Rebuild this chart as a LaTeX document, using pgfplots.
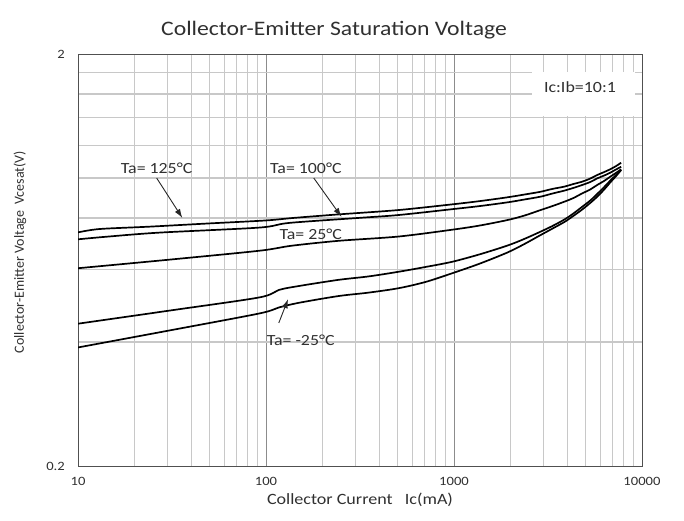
\documentclass[border=0pt]{standalone}
\usepackage{fontspec}
\setmainfont{Carlito}[FakeStretch=1.15]
\newfontfamily\ylfont{Carlito}
\usepackage{pgfplots}
\pgfplotsset{compat=1.18}
\usetikzlibrary{arrows.meta}
\definecolor{gridc}{HTML}{C8C8C8}
\definecolor{majc}{HTML}{8C8C8C}
\definecolor{framec}{HTML}{505050}
\definecolor{txt}{HTML}{303030}
\newcommand{\ann}{\fontsize{15.5bp}{17bp}\selectfont}
\pgfplotsset{curve/.style={black, no markers, line width=1.7bp, smooth, tension=0.5}}
\begin{document}
\begin{tikzpicture}
\begin{axis}[
  scale only axis, width=564bp, height=412bp,
  xmode=log, ymode=log,
  xmin=10, xmax=10000, ymin=0.2, ymax=2,
  xtick={10,100,1000,10000}, xticklabels={10,100,1000,10000},
  ytick={0.2,2}, yticklabels={0.2,2},
  minor xtick={20,30,40,50,60,70,80,90,200,300,400,500,600,700,800,900,2000,3000,4000,5000,6000,7000,8000,9000},
  minor ytick={0.4,0.6,0.8,1.0,1.2,1.4,1.6,1.8},
  xmajorgrids, xminorgrids, yminorgrids,
  major grid style={majc, line width=0.8bp},
  minor grid style={gridc, line width=1.2bp},
  major tick length=0pt, minor tick length=0pt,
  axis line style={framec, line width=0.9bp},
  tick label style={font=\fontsize{12.7bp}{14bp}\selectfont, text=txt},
  xticklabel style={anchor=center, yshift=-15bp},
  yticklabel style={anchor=east, inner sep=0pt, xshift=-13bp},
  title={Collector-Emitter Saturation Voltage},
  title style={at={(rel axis cs:0.454,1.0437)}, anchor=center, font=\fontsize{20.6bp}{24bp}\selectfont, text=txt},
  xlabel={Collector Current\ \ \ Ic(mA)},
  xlabel style={at={(rel axis cs:0.5,-0.0825)}, anchor=center, font=\fontsize{15.7bp}{18bp}\selectfont, text=txt},
  ylabel={Collector-Emitter Voltage\ \ Vcesat(V)},
  ylabel style={at={(rel axis cs:-0.1028,0.519)}, anchor=center, rotate=0, font=\ylfont\fontsize{14bp}{16bp}\selectfont, text=txt},
]
\coordinate (bl) at (rel axis cs:0,0);
\coordinate (tr) at (rel axis cs:1,1);
\fill[white] (axis cs:2600,1.416) rectangle (axis cs:9190,1.81);
\node[font=\fontsize{15.6bp}{17bp}\selectfont, text=txt] at (axis cs:4680,1.663) {Ic:Ib=10:1};

% Ta = 125 C
\addplot[curve] coordinates {
(10,0.738)(13,0.752)(24,0.762)(50,0.776)(100,0.789)(140,0.800)(243,0.816)(505,0.836)(975,0.863)(1373,0.879)(1931,0.898)(2375,0.912)(2886,0.926)(3341,0.941)(3864,0.953)(4313,0.967)(4814,0.980)(5308,0.997)(5781,1.017)(6295,1.034)(6771,1.050)(7278,1.069)(7745,1.089)};
% Ta = 100 C
\addplot[curve] coordinates {
(10,0.710)(14,0.720)(27,0.737)(92,0.758)(132,0.778)(310,0.800)(505,0.813)(975,0.840)(1373,0.855)(1931,0.873)(2375,0.887)(2886,0.901)(3341,0.917)(3864,0.932)(4313,0.946)(4814,0.962)(5308,0.978)(5781,0.998)(6295,1.014)(6771,1.030)(7278,1.049)(7745,1.065)};
% Ta = 25 C
\addplot[curve] coordinates {
(10,0.604)(31,0.634)(92,0.666)(137,0.685)(243,0.704)(505,0.721)(975,0.749)(1373,0.767)(1931,0.791)(2375,0.811)(2886,0.836)(3341,0.855)(3864,0.876)(4313,0.894)(4814,0.918)(5308,0.938)(5781,0.962)(6295,0.984)(6771,1.007)(7278,1.029)(7745,1.050)};
% fourth curve
\addplot[curve] coordinates {
(10,0.443)(31,0.477)(92,0.513)(117,0.535)(150,0.547)(243,0.566)(351,0.577)(505,0.592)(702,0.608)(975,0.626)(1373,0.653)(1931,0.686)(2375,0.712)(2886,0.741)(3341,0.765)(3864,0.793)(4313,0.820)(4814,0.852)(5308,0.882)(5781,0.915)(6295,0.951)(6771,0.985)(7278,1.017)(7745,1.046)};
% Ta = -25 C
\addplot[curve] coordinates {
(10,0.388)(31,0.427)(92,0.469)(117,0.485)(150,0.498)(243,0.517)(351,0.527)(505,0.540)(702,0.559)(975,0.587)(1373,0.620)(1931,0.660)(2375,0.692)(2886,0.727)(3341,0.754)(3864,0.782)(4313,0.809)(4814,0.839)(5308,0.870)(5781,0.901)(6295,0.938)(6771,0.975)(7278,1.011)(7745,1.046)};

\draw[-{Latex[length=9bp,width=6bp]}, line width=0.9bp, black!85] (axis cs:26.2,1.0) -- (axis cs:35.9,0.80);
\draw[-{Latex[length=9bp,width=6bp]}, line width=0.9bp, black!85] (axis cs:179.5,1.0) -- (axis cs:252,0.805);
\draw[-{Latex[length=9bp,width=6bp]}, line width=0.9bp, black!85] (axis cs:117,0.445) -- (axis cs:131,0.508);
\node[font=\ann, text=txt] at (axis cs:26.2,1.058) {Ta= 125°C};
\node[font=\ann, text=txt] at (axis cs:163,1.058) {Ta= 100°C};
\node[font=\ann, text=txt] at (axis cs:173,0.731) {Ta= 25°C};
\node[font=\ann, text=txt] at (axis cs:153,0.404) {Ta= -25°C};
\end{axis}
\pgfresetboundingbox
\useasboundingbox ([xshift=-78bp,yshift=-55bp]bl) rectangle ([xshift=42bp,yshift=54bp]tr);
\end{tikzpicture}
\end{document}
